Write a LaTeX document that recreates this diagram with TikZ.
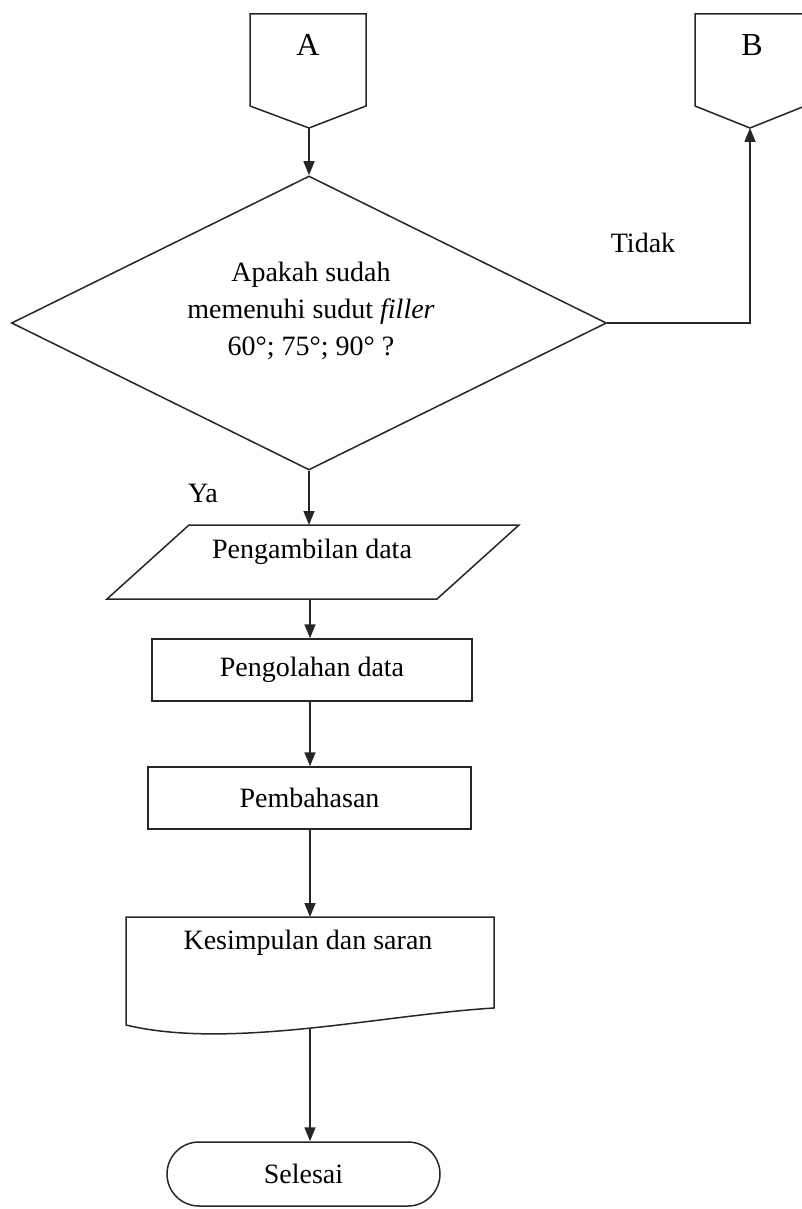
\documentclass[tikz,border=0pt]{standalone}
\usepackage{fontspec}
\setmainfont{Liberation Serif}
\usetikzlibrary{arrows.meta,shapes.geometric}
\begin{document}
\begin{tikzpicture}[x=1pt,y=-1pt,
  line/.style={line width=1.5pt, draw=black!85},
  arr/.style={line, -{Triangle[length=14pt,width=11pt]}},
  txt/.style={font=\fontsize{28}{37}\selectfont, inner sep=0pt, align=center},
  big/.style={font=\fontsize{32}{38}\selectfont, inner sep=0pt},
  box/.style={line, rectangle, minimum height=62pt, inner sep=0pt, font=\fontsize{28}{37}\selectfont},
]
\useasboundingbox (0,0) rectangle (802,1209);
\clip (0,0) rectangle (802,1209);

% off-page connector A
\draw[line] (250,14) -- (366,14) -- (366,106) -- (309,128) -- (250,106) -- cycle;
\coordinate (Atip) at (309,128);
\node[big] (Alab) at (308,45) {A};

% off-page connector B
\draw[line] (695,14) -- (805,14) -- (805,106) -- (750,128) -- (695,106) -- cycle;
\coordinate (Btip) at (750,128);
\node[big] (Blab) at (752,45) {B};

% decision
\node[line, draw, diamond, minimum width=595pt, minimum height=294pt, inner sep=0pt] (dia) at (309,323) {};
\node[txt] (diatxt) at (311,311) {Apakah sudah\\memenuhi sudut \textit{filler}\\60°; 75°; 90° ?};
\node[txt] (tidak) at (643,243) {Tidak};
\node[txt] (ya) at (203,493) {Ya};

% input/output
\draw[line] (189,525) -- (519,525) -- (437,599) -- (107,599) -- cycle;
\coordinate (ambT) at (309,525);
\coordinate (ambB) at (310,599);
\node[txt] (ambtxt) at (312,552) {Pengambilan data};

% processes
\node[box, draw, minimum width=320pt] (olah) at (312,670) {Pengolahan data};
\node[box, draw, minimum width=323pt] (pemb) at (309.5,798) {Pembahasan};

% document
\draw[line] (126,1025) -- (126,917) -- (494,917) -- (494,1008)
  .. controls (380,1015) and (230,1050) .. (126,1025) -- cycle;
\coordinate (docT) at (310,917);
\coordinate (docB) at (310,1029);
\node[txt] (doctxt) at (308,943) {Kesimpulan dan saran};

% terminator
\node[line, draw, rectangle, rounded corners=32pt, minimum width=273pt, minimum height=64pt, inner sep=0pt, font=\fontsize{28}{37}\selectfont] (sel) at (303.5,1174) {Selesai};

% connectors
\draw[arr] (Atip) -- (Atip |- dia.north);
\draw[arr] (dia.east) -| (Btip);
\draw[arr] (dia.south) -- (ambT);
\draw[arr] (ambB) -- (ambB |- olah.north);
\draw[arr] (olah.south -| ambB) -- (ambB |- pemb.north);
\draw[arr] (pemb.south -| ambB) -- (ambB |- docT);
\draw[arr] (docB) -- (docB |- sel.north);
\end{tikzpicture}
\end{document}
